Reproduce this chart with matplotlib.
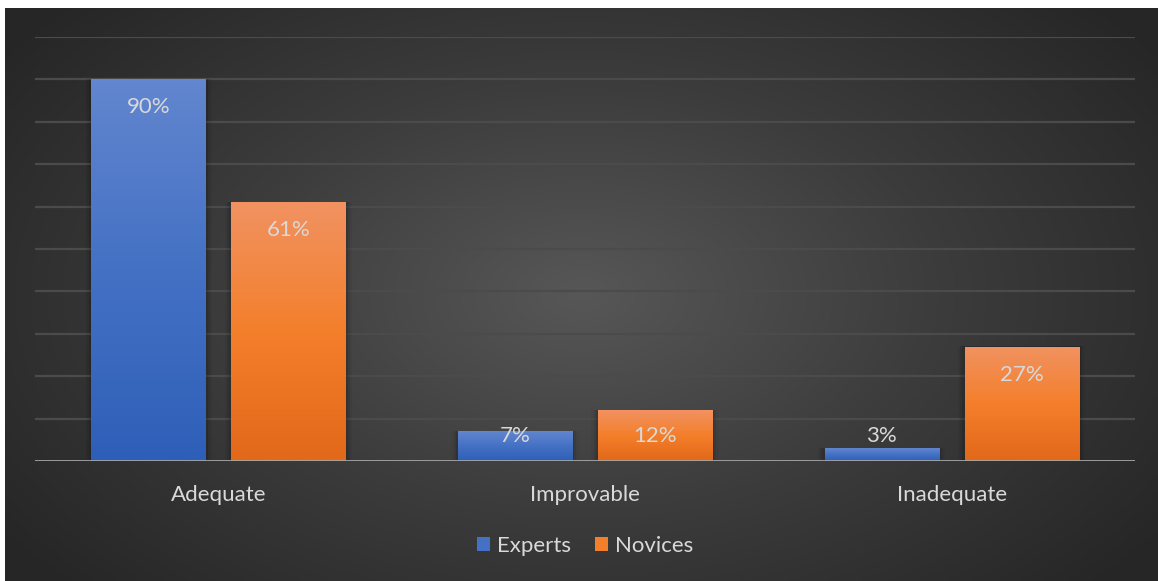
import numpy as np
import matplotlib.pyplot as plt
import matplotlib.colors as mcolors
from matplotlib.patches import Rectangle

# 資料
categories = ["Adequate", "Improvable", "Inadequate"]
experts = [90, 7, 3]
novices = [61, 12, 27]
series_names = ["Experts", "Novices"]

W, H = 1158, 581
plt.rcParams['font.family'] = ['Lato', 'DejaVu Sans']
TXT = '#d9d9d9'
FS = 16

fig = plt.figure(figsize=(W / 100, H / 100), dpi=100)
fig.patch.set_facecolor('white')

# 背景：放射狀漸層
bg = fig.add_axes([5 / W, 0, 1 - 5 / W, 1 - 8 / H])
yy, xx = np.mgrid[0:1:300j, 0:1:600j]
r = np.sqrt(((xx - 0.5) / 0.62) ** 2 + ((yy - 0.5) / 0.75) ** 2)
r = np.clip(r, 0, 1)
bg_cmap = mcolors.LinearSegmentedColormap.from_list('bg', ['#575757', '#3c3c3c', '#262626'])
bg.imshow(r, cmap=bg_cmap, aspect='auto', extent=[0, 1, 0, 1], vmin=0, vmax=1)
bg.axis('off')

ax = fig.add_axes([35 / W, 1 - 461 / H, 1100 / W, 424 / H])
ax.patch.set_alpha(0)
ax.set_ylim(0, 100)
ax.set_xlim(-0.5, 2.5)
for g in range(10, 101, 10):
    ax.axhline(g, color='#4b4b4b', lw=1.6, zorder=0)
ax.axhline(0, color='#a6a6a6', lw=2, zorder=5)
for s in ax.spines.values():
    s.set_visible(False)
ax.set_yticks([])
x = np.arange(len(categories))
ax.set_xticks(x)
ax.set_xticklabels(categories, color=TXT, fontsize=FS)
ax.tick_params(axis='x', length=0, pad=17)

bw = 0.311
off = 0.191
grads = [('#6286cf', '#2e5fb8'), ('#f19261', '#e2681a')]
mid = ['#4471c4', '#f47f2b']

for k, (vals, name) in enumerate(zip([experts, novices], series_names)):
    pos = x + (off if k else -off)
    bars = ax.bar(pos, vals, width=bw, color=mid[k], label=name, zorder=3)
    cmap = mcolors.LinearSegmentedColormap.from_list('g%d' % k, [grads[k][1], mid[k], grads[k][0]])
    for b, v in zip(bars, vals):
        # 陰影
        for i, a in enumerate([0.10, 0.07, 0.04]):
            d = (i + 1) * 0.006
            ax.add_patch(Rectangle((b.get_x() - d, 0), b.get_width() + 2 * d, v + d * 8,
                                   color='black', alpha=a, lw=0, zorder=2))
        im = ax.imshow(np.linspace(0, 1, 100).reshape(-1, 1), cmap=cmap, aspect='auto', origin='lower',
                       extent=[b.get_x(), b.get_x() + b.get_width(), 0, v], zorder=3.5)
        im.set_clip_path(b)
        ly = max(v - 6.6, 5.9)
        ax.text(b.get_x() + b.get_width() / 2, ly, f"{v}%", ha='center', va='center',
                color=TXT, fontsize=FS, zorder=6)
ax.set_xlim(-0.5, 2.5)
ax.set_ylim(0, 100)

leg = ax.legend(loc='center', bbox_to_anchor=(0.5, -(546 - 461) / 424), ncol=2, frameon=False,
                fontsize=FS, handlelength=0.6, handleheight=0.6, handletextpad=0.3, columnspacing=1.1)
for t in leg.get_texts():
    t.set_color(TXT)

fig.savefig('out.png', dpi=100, facecolor=fig.get_facecolor())
